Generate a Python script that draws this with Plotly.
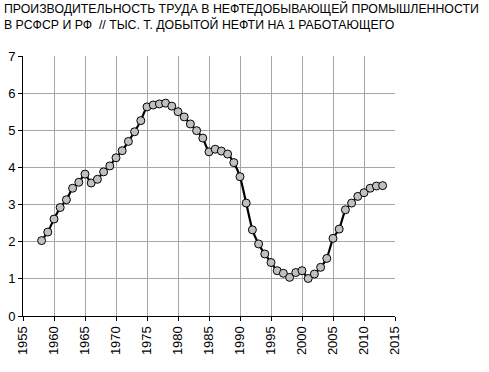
import plotly.graph_objects as go

years = list(range(1958, 2014))
values = [2.03, 2.26, 2.61, 2.92, 3.13, 3.44, 3.60, 3.82, 3.58, 3.68,
          3.88, 4.04, 4.26, 4.45, 4.70, 4.96, 5.26, 5.63, 5.68, 5.71,
          5.73, 5.65, 5.50, 5.36, 5.17, 4.99, 4.79, 4.42, 4.49, 4.44,
          4.36, 4.13, 3.75, 3.04, 2.32, 1.94, 1.67, 1.44, 1.22, 1.15,
          1.04, 1.17, 1.22, 1.01, 1.13, 1.31, 1.55, 2.09, 2.34, 2.86,
          3.04, 3.22, 3.32, 3.44, 3.50, 3.51]

x_ticks = list(range(1955, 2016, 5))
y_ticks = list(range(0, 8))
title_lines = ["ПРОИЗВОДИТЕЛЬНОСТЬ ТРУДА В НЕФТЕДОБЫВАЮЩЕЙ ПРОМЫШЛЕННОСТИ",
               "В РСФСР И РФ  // ТЫС. Т. ДОБЫТОЙ НЕФТИ НА 1 РАБОТАЮЩЕГО"]

font_family = "Liberation Sans, Arial, sans-serif"

W, H = 489, 372
ML, MR, MT, MB = 23, 94, 56, 56
PW, PH = W - ML - MR, H - MT - MB

fig = go.Figure()
fig.add_trace(go.Scatter(
    x=years, y=values, mode="lines+markers",
    line=dict(color="black", width=2.2, shape="spline", smoothing=0.5),
    marker=dict(size=8, color="#c0c0c0", line=dict(color="black", width=1)),
    showlegend=False,
))

title_centers_px = [9, 25]
annotations = []
for line, cy in zip(title_lines, title_centers_px):
    annotations.append(dict(
        text=line, xref="paper", yref="paper",
        x=(2 - ML) / PW, y=(H - MB - cy) / PH,
        xanchor="left", yanchor="middle", showarrow=False,
        font=dict(size=12.3, family=font_family, color="black"),
    ))

fig.update_layout(
    width=W, height=H,
    margin=dict(l=ML, r=MR, t=MT, b=MB, autoexpand=False),
    paper_bgcolor="white", plot_bgcolor="white",
    font=dict(family=font_family, size=13, color="black"),
    annotations=annotations,
)

fig.update_xaxes(
    range=[1955, 2015], tickvals=x_ticks, ticktext=[str(t) for t in x_ticks],
    tickangle=-90, showgrid=True, gridcolor="#a6a6a6", gridwidth=1,
    showline=True, linecolor="black", linewidth=1, automargin=False,
    ticks="outside", ticklen=4, tickcolor="black", zeroline=False,
    tickfont=dict(size=13),
)
fig.update_yaxes(
    range=[0, 7], tickvals=y_ticks, showgrid=True, gridcolor="#a6a6a6", gridwidth=1,
    showline=True, linecolor="black", linewidth=1, automargin=False,
    ticks="outside", ticklen=4, tickcolor="black", zeroline=False,
    tickfont=dict(size=13),
)

fig.write_html("out.html", config={"displayModeBar": False},
               post_script="document.body.style.margin='0';")
